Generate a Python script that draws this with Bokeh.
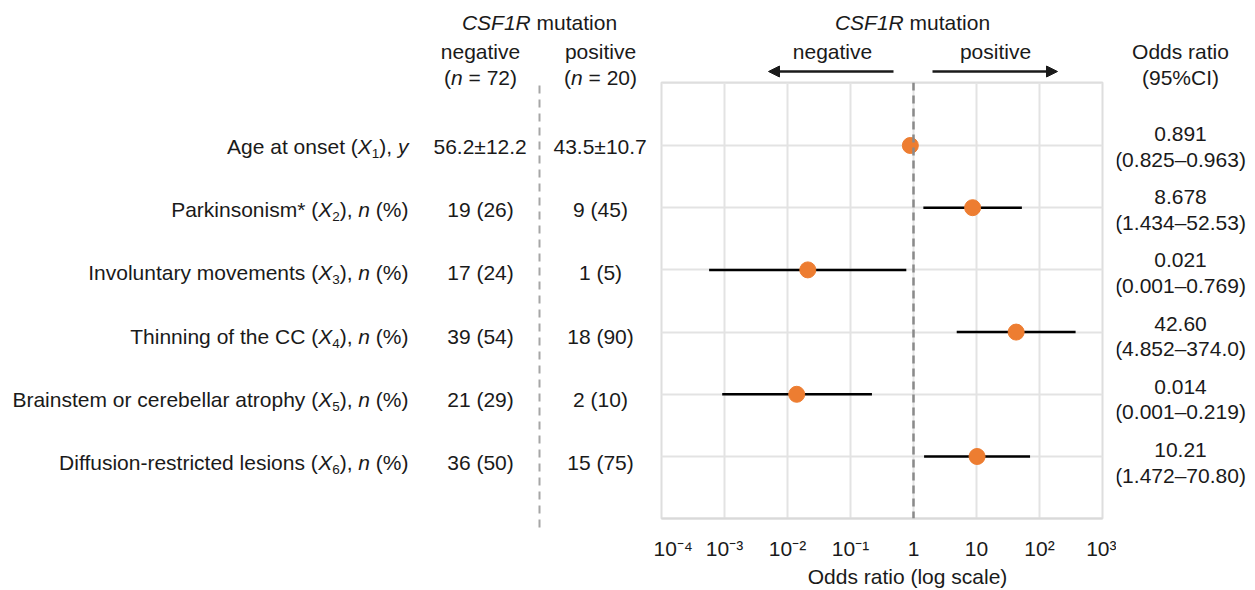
from bokeh.plotting import figure
from bokeh.layouts import row, column
from bokeh.models import (Range1d, LinearScale, FixedTicker, Grid, Arrow,
                          NormalHead, Span, CustomJSTickFormatter, ColumnDataSource)
from bokeh.core.properties import value
from bokeh.embed import file_html
from bokeh.resources import INLINE

# ---------------- data ----------------
rows = [0, 1, 2, 3, 4, 5]
names = ["Age at onset", "Parkinsonism*", "Involuntary movements",
         "Thinning of the CC", "Brainstem or cerebellar atrophy",
         "Diffusion-restricted lesions"]
var_sub = ["1", "2", "3", "4", "5", "6"]
unit_var = ["y", "n", "n", "n", "n", "n"]
unit_suffix = ["", " (%)", " (%)", " (%)", " (%)", " (%)"]
neg_vals = ["56.2\u00b112.2", "19 (26)", "17 (24)", "39 (54)", "21 (29)", "36 (50)"]
pos_vals = ["43.5\u00b110.7", "9 (45)", "1 (5)", "18 (90)", "2 (10)", "15 (75)"]
group_names = ["negative", "positive"]
group_n = ["72", "20"]

or_vals = [0.891, 8.678, 0.021, 42.60, 0.014, 10.21]
ci_lo = [0.825, 1.434, 0.00057, 4.852, 0.00092, 1.472]
ci_hi = [0.963, 52.53, 0.769, 374.0, 0.219, 70.80]
or_text = ["0.891", "8.678", "0.021", "42.60", "0.014", "10.21"]
ci_text = ["(0.825\u20130.963)", "(1.434\u201352.53)", "(0.001\u20130.769)",
           "(4.852\u2013374.0)", "(0.001\u20130.219)", "(1.472\u201370.80)"]

tick_vals = [1e-4, 1e-3, 1e-2, 1e-1, 1, 10, 100, 1000]
tick_labels = ["10\u207b\u2074", "10\u207b\u00b3", "10\u207b\u00b2", "10\u207b\u00b9",
               "1", "10", "10\u00b2", "10\u00b3"]

# ---------------- geometry (page pixels) ----------------
PW, PH = 1255, 590
A_W = 653                     # table block
FL, FR, FT, FB = 661, 1102, 82, 525   # forest frame
C_X0 = 1116                   # start of right column
ROW0, ROWSTEP = 146, 63.2
FONT = "Liberation Sans"
FS = 21
SUB = 13.5
TXT = "#1a1a1a"
GRID = "#e3e3e3"

B_W = C_X0 - A_W
B_LB, B_RB = FL - A_W, C_X0 - FR
H1 = FT - 1
H3 = 28
H2 = PH - H1 - H3


def blank(width, height, xr, yr, **kw):
    f = figure(width=width, height=height, x_range=xr, y_range=yr,
               x_axis_location=None, y_axis_location=None,
               output_backend="svg", toolbar_location=None,
               min_border=0, **kw)
    f.outline_line_color = None
    f.background_fill_color = "white"
    f.border_fill_color = "white"
    f.xgrid.visible = False
    f.ygrid.visible = False
    return f


row_range = lambda top, bottom: Range1d((bottom - ROW0) / ROWSTEP, (top - ROW0) / ROWSTEP)

# ---------------- text helpers ----------------
AW = {' ': 278, '!': 278, '%': 889, '(': 333, ')': 333, '*': 389, '+': 584, ',': 278,
      '-': 333, '.': 278, '/': 278, '=': 584, '\u00b1': 584, '\u2013': 556,
      'A': 667, 'B': 667, 'C': 722, 'D': 722, 'E': 667, 'F': 611, 'G': 778, 'H': 722,
      'I': 278, 'J': 500, 'K': 667, 'L': 556, 'M': 833, 'N': 722, 'O': 778, 'P': 667,
      'Q': 778, 'R': 722, 'S': 667, 'T': 611, 'U': 722, 'V': 667, 'W': 944, 'X': 667,
      'Y': 667, 'Z': 611,
      'a': 556, 'b': 556, 'c': 500, 'd': 556, 'e': 556, 'f': 278, 'g': 556, 'h': 556,
      'i': 222, 'j': 222, 'k': 500, 'l': 222, 'm': 833, 'n': 556, 'o': 556, 'p': 556,
      'q': 556, 'r': 333, 's': 500, 't': 278, 'u': 556, 'v': 500, 'w': 722, 'x': 500,
      'y': 500, 'z': 500}


def tw(s, size):
    return sum(AW.get(c, 556) for c in s) * size / 1000.0


class Texts:
    def __init__(self, fig):
        self.fig = fig
        self.groups = {}

    def rich(self, pieces, x, y, align="left", yr="default", yoff=0):
        full = [pc + (FS, 0) if len(pc) == 2 else pc for pc in pieces]
        total = sum(tw(t, sz) for t, st, sz, dy in full)
        start = x - total if align == "right" else (x - total / 2 if align == "center" else x)
        g = self.groups.setdefault(yr, dict(x=[], y=[], text=[], size=[], style=[], dy=[]))
        for t, st, sz, dy in full:
            lead = len(t) - len(t.lstrip())
            shown = t.strip()
            if shown:
                g["x"].append(start + tw(t[:lead], sz))
                g["y"].append(y)
                g["text"].append(shown)
                g["size"].append(f"{sz}px")
                g["style"].append(st)
                g["dy"].append(yoff + dy)
            start += tw(t, sz)

    def draw(self):
        for yr, g in self.groups.items():
            self.fig.text(x="x", y="y", text="text", source=ColumnDataSource(g),
                          y_range_name=yr, text_font=value(FONT),
                          text_font_size="size", text_font_style="style",
                          y_offset="dy", text_color=TXT, text_align="left",
                          text_baseline="middle")


# ---------------- A: table ----------------
pa = blank(A_W, PH, Range1d(0, A_W), row_range(0, PH))
pa.extra_y_ranges = {"py": Range1d(PH, 0)}
pa.extra_y_scales = {"py": LinearScale()}
ta = Texts(pa)
LABEL_RIGHT, COL1, COL2 = 408, 480, 600
for i in rows:
    ta.rich([(names[i] + " (", "normal"), ("X", "italic"),
             (var_sub[i], "normal", SUB, 7), ("), ", "normal"),
             (unit_var[i], "italic"), (unit_suffix[i], "normal")],
            LABEL_RIGHT, i, align="right")
    ta.rich([(neg_vals[i], "normal")], COL1, i, align="center")
    ta.rich([(pos_vals[i], "normal")], COL2, i, align="center")
ta.rich([("CSF1R", "italic"), (" mutation", "normal")], 539, 22, "center", "py")
for cx, g, n in zip([COL1, COL2], group_names, group_n):
    ta.rich([(g, "normal")], cx, 51, "center", "py")
    ta.rich([("(", "normal"), ("n", "italic"), (" = " + n + ")", "normal")],
            cx, 77, "center", "py")
ta.draw()
pa.segment(x0=[539], y0=[85], x1=[539], y1=[530], y_range_name="py",
           line_color="#a6a6a6", line_width=2, line_dash="8 6")

# ---------------- B1: forest header ----------------
pb1 = blank(B_W, H1, Range1d(FL, FR), Range1d(H1, 0),
            min_border_left=B_LB, min_border_right=B_RB)
tb1 = Texts(pb1)
tb1.rich([("CSF1R", "italic"), (" mutation", "normal")], 912, 22, "center")
tb1.rich([(group_names[0], "normal")], 832, 51, "center")
tb1.rich([(group_names[1], "normal")], 995, 51, "center")
tb1.draw()
for xs, xe in [(893, 768), (932, 1057)]:
    pb1.add_layout(Arrow(x_start=xs, y_start=71, x_end=xe, y_end=71,
                         line_color=TXT, line_width=2.5,
                         end=NormalHead(size=11, fill_color=TXT, line_color=TXT,
                                        line_width=1)))

# ---------------- B2: forest plot ----------------
pb2 = figure(width=B_W, height=H2, x_axis_type="log",
             x_range=Range1d(tick_vals[0], tick_vals[-1]),
             y_range=row_range(FT, FB), y_axis_location=None,
             output_backend="svg", toolbar_location=None,
             min_border_left=B_LB, min_border_right=B_RB,
             min_border_top=FT - H1, min_border_bottom=H1 + H2 - FB)
pb2.background_fill_color = "white"
pb2.border_fill_color = "white"
pb2.outline_line_color = "#dedede"
pb2.outline_line_width = 2
pb2.xgrid.ticker = FixedTicker(ticks=tick_vals)
pb2.xgrid.grid_line_color = GRID
pb2.xgrid.grid_line_width = 2
pb2.add_layout(Grid(dimension=1, ticker=FixedTicker(ticks=rows),
                    grid_line_color=GRID, grid_line_width=2))
ax = pb2.xaxis[0]
ax.ticker = FixedTicker(ticks=tick_vals)
ax.formatter = CustomJSTickFormatter(
    args=dict(tvals=tick_vals, tlabs=tick_labels),
    code="""
    const i = tvals.findIndex(t => Math.abs(Math.log10(t) - Math.log10(tick)) < 1e-6);
    return i >= 0 ? tlabs[i] : "";
    """)
ax.major_tick_line_color = None
ax.minor_tick_line_color = None
ax.axis_line_color = "#d9d9d9"
ax.axis_line_width = 2
ax.major_label_text_font = FONT
ax.major_label_text_font_size = f"{FS}px"
ax.major_label_text_color = TXT
ax.major_label_standoff = 12

pb2.add_layout(Span(location=1, dimension="height", line_color="#8a8a8a",
                    line_width=2.5, line_dash="8 5"))
src = ColumnDataSource(dict(row=rows, orv=or_vals, lo=ci_lo, hi=ci_hi))
pb2.segment(x0="lo", y0="row", x1="hi", y1="row", source=src,
            line_color="black", line_width=2.5)
pb2.scatter(x="orv", y="row", source=src, size=16,
            fill_color="#ED7D31", line_color="#ED7D31")

# ---------------- B3: axis title ----------------
pb3 = blank(B_W, H3, Range1d(FL, FR), Range1d(PH, PH - H3),
            min_border_left=B_LB, min_border_right=B_RB)
tb3 = Texts(pb3)
tb3.rich([("Odds ratio (log scale)", "normal")], 907, 576, "center")
tb3.draw()

# ---------------- C: odds ratio column ----------------
pc = blank(PW - C_X0, PH, Range1d(C_X0, PW), row_range(0, PH))
pc.extra_y_ranges = {"py": Range1d(PH, 0)}
pc.extra_y_scales = {"py": LinearScale()}
tc = Texts(pc)
ORCOL = 1180
tc.rich([("Odds ratio", "normal")], ORCOL, 51, "center", "py")
tc.rich([("(95%CI)", "normal")], ORCOL, 77, "center", "py")
for i in rows:
    tc.rich([(or_text[i], "normal")], ORCOL, i, align="center", yoff=-12.5)
    tc.rich([(ci_text[i], "normal")], ORCOL, i, align="center", yoff=12.5)
tc.draw()

layout = row(pa, column(pb1, pb2, pb3), pc)
open("out.html", "w").write(file_html(layout, INLINE))
